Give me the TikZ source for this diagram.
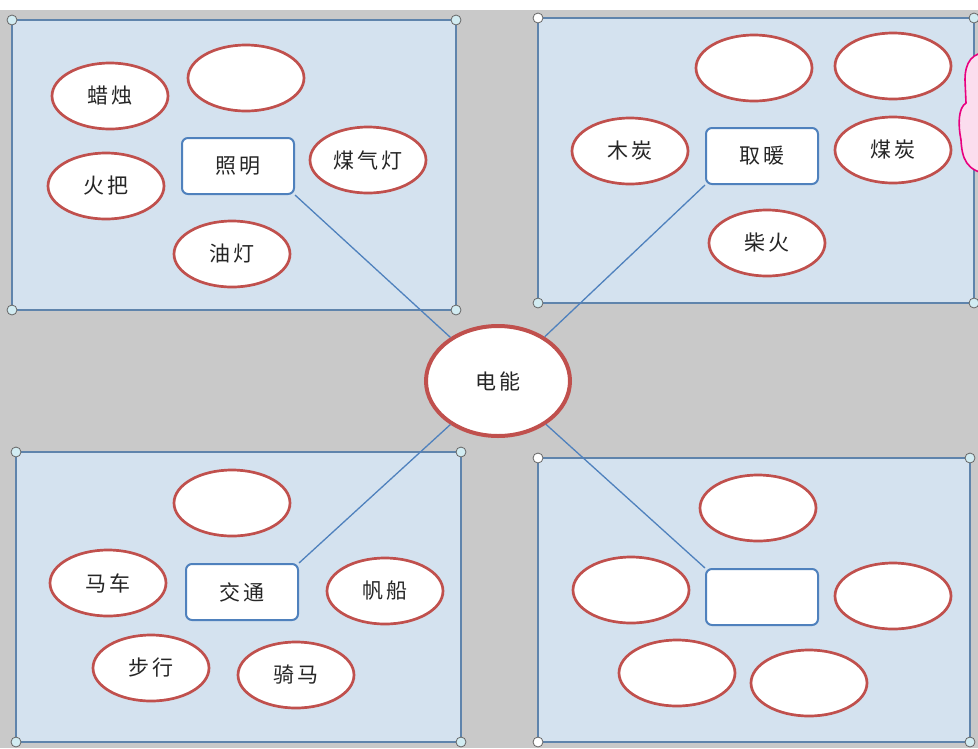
\documentclass[tikz,border=0pt]{standalone}
\usepackage{fontspec}
\newfontfamily\cjk[LetterSpace=15]{Noto Sans CJK SC}
\usetikzlibrary{shapes.geometric}
\definecolor{bggrey}{HTML}{C9C9C9}
\definecolor{panelfill}{HTML}{D4E2EF}
\definecolor{panelline}{HTML}{5F84AC}
\definecolor{ovalred}{HTML}{C0504D}
\definecolor{topicblue}{HTML}{4F81BD}
\definecolor{handlefill}{HTML}{D2ECF2}
\definecolor{pinkline}{HTML}{E8007F}
\definecolor{pinkfill}{HTML}{FBDDEE}
\begin{document}
\begin{tikzpicture}[x=1pt,y=-1pt,
  panel/.style={draw=panelline, fill=panelfill, line width=1.3pt},
  handle/.style={circle, draw=gray!80!black, fill=handlefill, line width=0.8pt, minimum size=10pt, inner sep=0pt},
  handlew/.style={handle, fill=white},
  txt/.style={font=\cjk\fontsize{21}{25}\selectfont, text=black!85},
  oval/.style={ellipse, draw=ovalred, line width=2.7pt, fill=white, minimum width=116pt, minimum height=66pt, inner sep=0pt, txt},
  hub/.style={ellipse, draw=ovalred, line width=4pt, fill=white, minimum width=144pt, minimum height=110pt, inner sep=0pt, txt},
  topic/.style={rectangle, rounded corners=6pt, draw=topicblue, line width=2pt, fill=white, minimum width=112pt, minimum height=56pt, inner sep=0pt, txt},
  link/.style={draw=topicblue, line width=1.3pt}]
\useasboundingbox (0,0) rectangle (978,748);
\fill[bggrey] (0,0) rectangle (978,748);
\fill[white] (0,0) rectangle (978,10);
% panels
\draw[panel] (12,20) rectangle (456,310);
\draw[panel] (538,18) rectangle (974,303);
\draw[panel] (16,452) rectangle (461,742);
\draw[panel] (538,458) rectangle (970,742);
% pink cloud at right edge
\begin{scope}
\clip (0,0) rectangle (978,748);
\draw[draw=pinkline, line width=1.6pt, fill=pinkfill] (990,52) .. controls (972,52) and (965,62) .. (965,80) .. controls (965,92) .. (966,103) .. controls (958,108) and (958,125) .. (961,140) .. controls (962,158) and (966,172) .. (990,174) -- cycle;
\end{scope}
% hub
\node[hub] (hub) at (498,381) {电能};
% top-left
\node[oval] (lazhu) at (110,96) {蜡烛};
\node[oval] (tlE) at (246,78) {};
\node[topic] (zhaoming) at (238,166) {照明};
\node[oval] (meiqideng) at (368,160) {煤气灯};
\node[oval] (huoba) at (106,186) {火把};
\node[oval] (youdeng) at (232,254) {油灯};
% top-right
\node[oval] (trE1) at (754,68) {};
\node[oval] (trE2) at (893,66) {};
\node[oval] (mutan) at (630,151) {木炭};
\node[topic] (qunuan) at (762,156) {取暖};
\node[oval] (meitan) at (893,150) {煤炭};
\node[oval] (chaihuo) at (767,243) {柴火};
% bottom-left
\node[oval] (blE) at (232,503) {};
\node[oval] (mache) at (108,583) {马车};
\node[topic] (jiaotong) at (242,592) {交通};
\node[oval] (fanchuan) at (385,591) {帆船};
\node[oval] (buxing) at (151,668) {步行};
\node[oval] (qima) at (296,675) {骑马};
% bottom-right
\node[oval] (brE1) at (758,508) {};
\node[oval] (brE2) at (631,590) {};
\node[topic] (brT) at (762,597) {};
\node[oval] (brE3) at (893,596) {};
\node[oval] (brE4) at (677,673) {};
\node[oval] (brE5) at (809,683) {};
% connectors
\draw[link] (zhaoming.south east) -- (hub);
\draw[link] (qunuan.south west) -- (hub);
\draw[link] (jiaotong.north east) -- (hub);
\draw[link] (brT.north west) -- (hub);
% handles
\node[handle] (h1) at (12,20) {};
\node[handle] (h2) at (456,20) {};
\node[handle] (h3) at (12,310) {};
\node[handle] (h4) at (456,310) {};
\node[handlew] (h5) at (538,18) {};
\node[handle] (h6) at (974,18) {};
\node[handle] (h7) at (538,303) {};
\node[handle] (h8) at (974,303) {};
\node[handle] (h9) at (16,452) {};
\node[handle] (h10) at (461,452) {};
\node[handle] (h11) at (16,742) {};
\node[handle] (h12) at (461,742) {};
\node[handlew] (h13) at (538,458) {};
\node[handle] (h14) at (970,458) {};
\node[handlew] (h15) at (538,742) {};
\node[handle] (h16) at (970,742) {};
\end{tikzpicture}
\end{document}
